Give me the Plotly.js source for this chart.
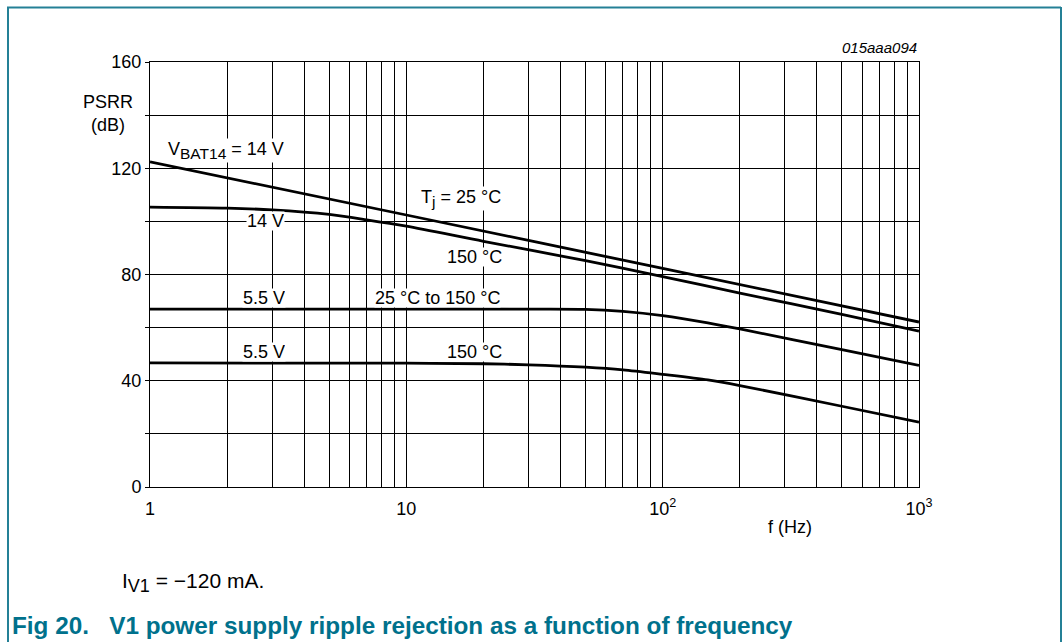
<!DOCTYPE html>
<html>
<head>
<meta charset="utf-8">
<script src="https://cdn.plot.ly/plotly-3.0.1.min.js"></script>
<style>html,body{margin:0;padding:0;background:#fff;}#chart{width:1063px;height:642px;}</style>
</head>
<body>
<div id="chart"></div>
<script>
// Data
const freq25_14 = [1, 10, 100, 1000];
const psrr25_14 = [122.4, 102.4, 82.3, 62.1];

const freq150_14 = [1, 2, 3, 5, 7, 10, 20, 50, 100, 200, 500, 1000];
const psrr150_14 = [105.4, 105.0, 104.3, 102.6, 100.6, 98.2, 92.5, 85.2, 79.2, 73.0, 65.0, 58.7];

const freq55_all = [1, 10, 30, 50, 70, 100, 150, 200, 500, 1000];
const psrr55_all = [67.0, 67.0, 67.0, 66.9, 66.1, 64.5, 61.8, 59.5, 51.7, 45.8];

const freq55_150 = [1, 10, 20, 30, 50, 70, 100, 150, 200, 500, 1000];
const psrr55_150 = [46.7, 46.6, 46.4, 46.0, 45.1, 44.1, 42.4, 40.3, 38.2, 30.4, 24.4];

const xTickVals = [1,2,3,4,5,6,7,8,9,10,20,30,40,50,60,70,80,90,100,200,300,400,500,600,700,800,900,1000];
const xTickText = xTickVals.map(v => v === 1 ? '1' : v === 10 ? '10' : v === 100 ? '10<sup>2</sup>' : v === 1000 ? '10<sup>3</sup>' : '');
const yTickVals = [0,20,40,60,80,100,120,140,160];
const yTickText = yTickVals.map(v => v % 40 === 0 ? String(v) : '');

const lineStyle = {color: '#000', width: 2.8, shape: 'spline', smoothing: 0.8};
const traces = [
  {x: freq25_14, y: psrr25_14, mode: 'lines', line: lineStyle},
  {x: freq150_14, y: psrr150_14, mode: 'lines', line: lineStyle},
  {x: freq55_all, y: psrr55_all, mode: 'lines', line: lineStyle},
  {x: freq55_150, y: psrr55_150, mode: 'lines', line: lineStyle}
];

const F = 'Liberation Sans, Arial, sans-serif';
const FS = 18;
function lab(text, x, y, extra) {
  return Object.assign({text: text, x: x, y: y, xref: 'x', yref: 'y', showarrow: false,
    font: {family: F, size: FS, color: '#000'}, bgcolor: '#fff', borderpad: 0}, extra || {});
}
function plab(text, x, y, extra) {
  return Object.assign({text: text, x: x, y: y, xref: 'paper', yref: 'paper', showarrow: false,
    font: {family: F, size: FS, color: '#000'}}, extra || {});
}
// pixel helpers for paper-referenced items
const L = 150, R = 919, T = 62, B = 487;
const px = v => (v - L) / (R - L);
const py = v => (B - v) / (B - T);
const sub = (s, n) => '<sub><span style="font-size:' + n + 'px">' + s + '</span></sub>';

const annotations = [
  lab('V' + sub('BAT14', 15.5) + ' = 14 V', Math.log10(1.16), 126.5, {xanchor: 'left'}),
  lab('T' + sub('j', 15.5) + ' = 25 °C', Math.log10(16.3), 108.5),
  lab('14 V', Math.log10(2.83), 100, {height: 18}),
  lab('150 °C', Math.log10(18.5), 86.5, {height: 18}),
  lab('5.5 V', Math.log10(2.79), 71, {height: 18}),
  lab('25 °C to 150 °C', Math.log10(13.2), 71, {height: 18}),
  lab('5.5 V', Math.log10(2.79), 51, {height: 18}),
  lab('150 °C', Math.log10(18.5), 51, {height: 18}),
  plab('PSRR<br>(dB)', px(108), py(114), {xanchor: 'center', yanchor: 'middle', align: 'center'}),
  plab('<i>015aaa094</i>', 1, py(48), {xanchor: 'right', yanchor: 'middle', font: {family: F, size: 15, color: '#000'}}),
  plab('f (Hz)', px(790), py(527), {xanchor: 'center', yanchor: 'middle'}),
  plab('I' + sub('V1', 18) + ' = \u2212120 mA.', px(120), py(582), {xanchor: 'left', yanchor: 'middle', font: {family: F, size: 21, color: '#000'}}),
  plab('<b>Fig 20.   V1 power supply ripple rejection as a function of frequency</b>', px(10), py(625),
       {xanchor: 'left', yanchor: 'middle', font: {family: F, size: 24.3, color: '#00718c'}})
];

const border = 'rgb(36,128,150)';
const shapes = [
  {type: 'line', xref: 'paper', yref: 'paper', x0: px(8), x1: px(8), y0: py(7), y1: py(650), line: {color: border, width: 2}},
  {type: 'line', xref: 'paper', yref: 'paper', x0: px(7), x1: px(1061), y0: py(7.5), y1: py(7.5), line: {color: border, width: 2}},
  {type: 'line', xref: 'paper', yref: 'paper', x0: px(1061), x1: px(1061), y0: py(7), y1: py(650), line: {color: border, width: 2}}
];

const layout = {
  width: 1063, height: 642,
  margin: {l: L, r: 1063 - R, t: T, b: 642 - B, pad: 0},
  paper_bgcolor: '#fff', plot_bgcolor: '#fff',
  showlegend: false,
  font: {family: F, size: FS, color: '#000'},
  xaxis: {
    type: 'log', range: [0, 3], tickvals: xTickVals, ticktext: xTickText,
    showgrid: true, gridcolor: '#000', gridwidth: 1, zeroline: false,
    showline: true, linecolor: '#000', linewidth: 1, mirror: true,
    ticks: '', ticklabelstandoff: 5, tickfont: {family: F, size: FS, color: '#000'}
  },
  yaxis: {
    range: [0, 160], tickvals: yTickVals, ticktext: yTickText,
    showgrid: true, gridcolor: '#000', gridwidth: 1, zeroline: false,
    showline: true, linecolor: '#000', linewidth: 1, mirror: true,
    ticks: 'outside', ticklen: 4, tickcolor: '#000', tickwidth: 1,
    tickfont: {family: F, size: FS, color: '#000'}
  },
  annotations: annotations,
  shapes: shapes
};

Plotly.newPlot('chart', traces, layout, {staticPlot: true, displayModeBar: false});
</script>
</body>
</html>
